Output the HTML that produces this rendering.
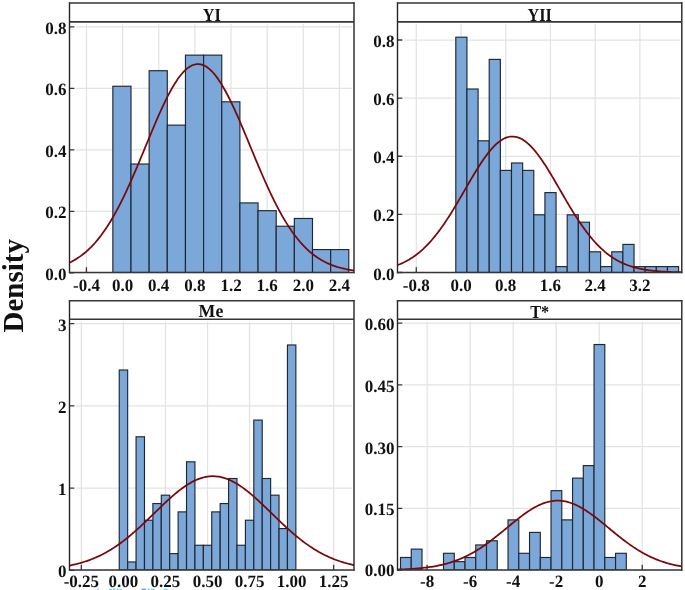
<!DOCTYPE html>
<html><head><meta charset="utf-8"><title>Density histograms</title>
<style>html,body{margin:0;padding:0;background:#fff;}body{width:685px;height:590px;overflow:hidden;font-family:"Liberation Serif",serif;}</style>
</head><body>
<svg width="685" height="590" viewBox="0 0 685 590" style="display:block;will-change:transform">
<rect width="685" height="590" fill="#fff"/>
<clipPath id="c0"><rect x="69.5" y="21.85" width="284.5" height="250.65"/></clipPath>
<path d="M86.46 24.25V272.5M122.60 24.25V272.5M158.74 24.25V272.5M194.88 24.25V272.5M231.02 24.25V272.5M267.16 24.25V272.5M303.30 24.25V272.5M339.44 24.25V272.5M76.0 272.90H352.0M76.0 211.40H352.0M76.0 149.90H352.0M76.0 88.40H352.0M76.0 26.90H352.0" stroke="#e3e3e3" stroke-width="1.25" fill="none"/>
<path d="M86.46 272.5v-5.3M122.60 272.5v-5.3M158.74 272.5v-5.3M194.88 272.5v-5.3M231.02 272.5v-5.3M267.16 272.5v-5.3M303.30 272.5v-5.3M339.44 272.5v-5.3M69.5 272.90h4.9M69.5 211.40h4.9M69.5 149.90h4.9M69.5 88.40h4.9M69.5 26.90h4.9" stroke="#363636" stroke-width="1.3" fill="none"/>
<g clip-path="url(#c0)" fill="#7ba7d9" stroke="#1f2733" stroke-width="1.15"><rect x="112.85" y="86.25" width="18.15" height="186.25"/><rect x="131.00" y="164.02" width="18.15" height="108.48"/><rect x="149.15" y="70.70" width="18.15" height="201.80"/><rect x="167.30" y="125.14" width="18.15" height="147.36"/><rect x="185.45" y="55.14" width="18.15" height="217.36"/><rect x="203.60" y="55.14" width="18.15" height="217.36"/><rect x="221.75" y="101.81" width="18.15" height="170.69"/><rect x="239.90" y="202.91" width="18.15" height="69.59"/><rect x="258.05" y="210.68" width="18.15" height="61.82"/><rect x="276.20" y="226.24" width="18.15" height="46.26"/><rect x="294.35" y="218.46" width="18.15" height="54.04"/><rect x="312.50" y="249.57" width="18.15" height="22.93"/><rect x="330.65" y="249.57" width="18.15" height="22.93"/></g>
<polyline clip-path="url(#c0)" points="69.50,262.68 70.92,261.98 72.34,261.24 73.77,260.46 75.19,259.63 76.61,258.76 78.03,257.85 79.46,256.88 80.88,255.87 82.30,254.81 83.72,253.69 85.15,252.53 86.57,251.30 87.99,250.02 89.41,248.68 90.84,247.29 92.26,245.83 93.68,244.31 95.11,242.73 96.53,241.08 97.95,239.37 99.37,237.59 100.80,235.75 102.22,233.83 103.64,231.85 105.06,229.81 106.48,227.69 107.91,225.50 109.33,223.25 110.75,220.92 112.17,218.53 113.60,216.07 115.02,213.54 116.44,210.95 117.87,208.29 119.29,205.57 120.71,202.78 122.13,199.93 123.56,197.02 124.98,194.06 126.40,191.04 127.82,187.96 129.25,184.84 130.67,181.67 132.09,178.45 133.51,175.19 134.94,171.90 136.36,168.57 137.78,165.22 139.20,161.83 140.62,158.43 142.05,155.01 143.47,151.57 144.89,148.13 146.31,144.68 147.74,141.24 149.16,137.81 150.58,134.38 152.00,130.98 153.43,127.60 154.85,124.25 156.27,120.93 157.69,117.66 159.12,114.43 160.54,111.26 161.96,108.14 163.38,105.09 164.81,102.11 166.23,99.20 167.65,96.38 169.07,93.64 170.50,90.99 171.92,88.44 173.34,86.00 174.76,83.66 176.19,81.43 177.61,79.32 179.03,77.34 180.45,75.48 181.88,73.74 183.30,72.15 184.72,70.68 186.14,69.36 187.57,68.18 188.99,67.15 190.41,66.27 191.83,65.53 193.26,64.95 194.68,64.52 196.10,64.24 197.53,64.11 198.95,64.15 200.37,64.33 201.79,64.67 203.22,65.16 204.64,65.81 206.06,66.60 207.48,67.55 208.91,68.64 210.33,69.87 211.75,71.25 213.17,72.77 214.59,74.42 216.02,76.20 217.44,78.12 218.86,80.15 220.28,82.31 221.71,84.58 223.13,86.96 224.55,89.45 225.97,92.04 227.40,94.72 228.82,97.50 230.24,100.36 231.66,103.29 233.09,106.30 234.51,109.38 235.93,112.52 237.35,115.72 238.78,118.96 240.20,122.26 241.62,125.59 243.04,128.95 244.47,132.34 245.89,135.75 247.31,139.18 248.74,142.62 250.16,146.06 251.58,149.51 253.00,152.94 254.43,156.38 255.85,159.79 257.27,163.19 258.69,166.56 260.12,169.91 261.54,173.22 262.96,176.50 264.38,179.74 265.81,182.94 267.23,186.09 268.65,189.20 270.07,192.25 271.50,195.25 272.92,198.19 274.34,201.08 275.76,203.90 277.19,206.66 278.61,209.36 280.03,211.99 281.45,214.56 282.88,217.06 284.30,219.50 285.72,221.86 287.14,224.16 288.56,226.38 289.99,228.54 291.41,230.63 292.83,232.65 294.25,234.61 295.68,236.49 297.10,238.31 298.52,240.06 299.94,241.75 301.37,243.37 302.79,244.92 304.21,246.42 305.63,247.85 307.06,249.23 308.48,250.54 309.90,251.80 311.32,253.00 312.75,254.15 314.17,255.24 315.59,256.28 317.01,257.28 318.44,258.22 319.86,259.12 321.28,259.97 322.71,260.78 324.13,261.54 325.55,262.27 326.97,262.95 328.39,263.60 329.82,264.22 331.24,264.80 332.66,265.34 334.08,265.86 335.51,266.34 336.93,266.80 338.35,267.22 339.77,267.63 341.20,268.00 342.62,268.36 344.04,268.69 345.46,269.00 346.89,269.29 348.31,269.56 349.73,269.81 351.15,270.05 352.58,270.26 354.00,270.47" fill="none" stroke="#7a0709" stroke-width="1.75" stroke-linejoin="round"/>
<path d="M69.5 2.3V273.25M354.0 2.3V273.25" stroke="#242424" stroke-width="1.4" fill="none"/>
<path d="M68.9 3.05H354.6M69.5 21.85H354.0M68.9 272.5H354.6" stroke="#363636" stroke-width="1.55" fill="none"/>
<g font-family="Liberation Serif, serif" font-weight="bold" font-size="17.0" fill="#111" text-rendering="geometricPrecision" style="filter:grayscale(1)">
<text transform="translate(211.75,20.95) scale(1,1.13)" text-anchor="middle" font-size="16.3">YI</text>
<text transform="translate(86.46,291.40) scale(1,1.02)" text-anchor="middle">-0.4</text>
<text transform="translate(122.60,291.40) scale(1,1.02)" text-anchor="middle">0.0</text>
<text transform="translate(158.74,291.40) scale(1,1.02)" text-anchor="middle">0.4</text>
<text transform="translate(194.88,291.40) scale(1,1.02)" text-anchor="middle">0.8</text>
<text transform="translate(231.02,291.40) scale(1,1.02)" text-anchor="middle">1.2</text>
<text transform="translate(267.16,291.40) scale(1,1.02)" text-anchor="middle">1.6</text>
<text transform="translate(303.30,291.40) scale(1,1.02)" text-anchor="middle">2.0</text>
<text transform="translate(339.44,291.40) scale(1,1.02)" text-anchor="middle">2.4</text>
<text transform="translate(66.50,279.90) scale(1,1.02)" text-anchor="end">0.0</text>
<text transform="translate(66.50,218.40) scale(1,1.02)" text-anchor="end">0.2</text>
<text transform="translate(66.50,156.90) scale(1,1.02)" text-anchor="end">0.4</text>
<text transform="translate(66.50,95.40) scale(1,1.02)" text-anchor="end">0.6</text>
<text transform="translate(66.50,33.90) scale(1,1.02)" text-anchor="end">0.8</text>
</g>
<clipPath id="c1"><rect x="397.5" y="21.85" width="284.29999999999995" height="250.65"/></clipPath>
<path d="M416.28 24.25V272.5M461.00 24.25V272.5M505.72 24.25V272.5M550.44 24.25V272.5M595.16 24.25V272.5M639.88 24.25V272.5M404.0 272.50H679.8M404.0 214.38H679.8M404.0 156.26H679.8M404.0 98.14H679.8M404.0 40.02H679.8" stroke="#e3e3e3" stroke-width="1.25" fill="none"/>
<path d="M416.28 272.5v-5.3M461.00 272.5v-5.3M505.72 272.5v-5.3M550.44 272.5v-5.3M595.16 272.5v-5.3M639.88 272.5v-5.3M397.5 272.50h4.9M397.5 214.38h4.9M397.5 156.26h4.9M397.5 98.14h4.9M397.5 40.02h4.9" stroke="#363636" stroke-width="1.3" fill="none"/>
<g clip-path="url(#c1)" fill="#7ba7d9" stroke="#1f2733" stroke-width="1.15"><rect x="455.80" y="37.20" width="11.14" height="235.30"/><rect x="466.94" y="89.00" width="11.14" height="183.50"/><rect x="478.08" y="140.80" width="11.14" height="131.70"/><rect x="489.22" y="59.40" width="11.14" height="213.10"/><rect x="500.36" y="170.40" width="11.14" height="102.10"/><rect x="511.50" y="163.00" width="11.14" height="109.50"/><rect x="522.64" y="170.40" width="11.14" height="102.10"/><rect x="533.78" y="214.80" width="11.14" height="57.70"/><rect x="544.92" y="192.60" width="11.14" height="79.90"/><rect x="556.06" y="266.60" width="11.14" height="5.90"/><rect x="567.20" y="214.80" width="11.14" height="57.70"/><rect x="578.34" y="222.20" width="11.14" height="50.30"/><rect x="589.48" y="251.80" width="11.14" height="20.70"/><rect x="600.62" y="266.60" width="11.14" height="5.90"/><rect x="611.76" y="251.80" width="11.14" height="20.70"/><rect x="622.90" y="244.40" width="11.14" height="28.10"/><rect x="634.04" y="266.60" width="11.14" height="5.90"/><rect x="645.18" y="266.60" width="11.14" height="5.90"/><rect x="656.32" y="266.60" width="11.14" height="5.90"/><rect x="667.46" y="266.60" width="11.14" height="5.90"/></g>
<polyline clip-path="url(#c1)" points="397.50,265.08 398.92,264.53 400.34,263.95 401.76,263.33 403.19,262.68 404.61,261.99 406.03,261.26 407.45,260.49 408.87,259.68 410.29,258.82 411.71,257.93 413.14,256.99 414.56,256.00 415.98,254.96 417.40,253.88 418.82,252.75 420.24,251.56 421.67,250.33 423.09,249.05 424.51,247.71 425.93,246.32 427.35,244.87 428.77,243.37 430.19,241.82 431.62,240.21 433.04,238.55 434.46,236.84 435.88,235.07 437.30,233.25 438.72,231.38 440.14,229.46 441.57,227.49 442.99,225.47 444.41,223.40 445.83,221.28 447.25,219.13 448.67,216.93 450.10,214.69 451.52,212.42 452.94,210.11 454.36,207.77 455.78,205.41 457.20,203.02 458.62,200.60 460.05,198.17 461.47,195.73 462.89,193.28 464.31,190.82 465.73,188.36 467.15,185.90 468.57,183.45 470.00,181.01 471.42,178.59 472.84,176.19 474.26,173.82 475.68,171.48 477.10,169.17 478.53,166.91 479.95,164.69 481.37,162.53 482.79,160.42 484.21,158.37 485.63,156.39 487.05,154.48 488.48,152.64 489.90,150.88 491.32,149.21 492.74,147.63 494.16,146.13 495.58,144.74 497.00,143.44 498.43,142.25 499.85,141.16 501.27,140.18 502.69,139.31 504.11,138.55 505.53,137.92 506.96,137.39 508.38,136.99 509.80,136.71 511.22,136.54 512.64,136.50 514.06,136.58 515.48,136.78 516.91,137.10 518.33,137.54 519.75,138.09 521.17,138.77 522.59,139.56 524.01,140.46 525.43,141.47 526.86,142.59 528.28,143.82 529.70,145.15 531.12,146.57 532.54,148.09 533.96,149.70 535.39,151.40 536.81,153.18 538.23,155.04 539.65,156.98 541.07,158.98 542.49,161.05 543.91,163.17 545.34,165.35 546.76,167.58 548.18,169.86 549.60,172.18 551.02,174.53 552.44,176.91 553.87,179.32 555.29,181.74 556.71,184.19 558.13,186.64 559.55,189.10 560.97,191.56 562.39,194.01 563.82,196.47 565.24,198.91 566.66,201.33 568.08,203.74 569.50,206.12 570.92,208.48 572.34,210.81 573.77,213.11 575.19,215.37 576.61,217.59 578.03,219.78 579.45,221.92 580.87,224.02 582.29,226.08 583.72,228.08 585.14,230.04 586.56,231.95 587.98,233.81 589.40,235.61 590.82,237.36 592.25,239.06 593.67,240.70 595.09,242.29 596.51,243.83 597.93,245.31 599.35,246.74 600.77,248.11 602.20,249.44 603.62,250.71 605.04,251.93 606.46,253.09 607.88,254.21 609.30,255.28 610.72,256.30 612.15,257.27 613.57,258.20 614.99,259.08 616.41,259.92 617.83,260.72 619.25,261.48 620.68,262.20 622.10,262.88 623.52,263.52 624.94,264.13 626.36,264.70 627.78,265.24 629.20,265.75 630.63,266.23 632.05,266.68 633.47,267.10 634.89,267.50 636.31,267.87 637.73,268.21 639.15,268.54 640.58,268.84 642.00,269.13 643.42,269.39 644.84,269.64 646.26,269.87 647.68,270.08 649.11,270.28 650.53,270.46 651.95,270.63 653.37,270.79 654.79,270.93 656.21,271.07 657.63,271.19 659.06,271.30 660.48,271.41 661.90,271.51 663.32,271.60 664.74,271.68 666.16,271.75 667.59,271.82 669.01,271.88 670.43,271.94 671.85,272.00 673.27,272.04 674.69,272.09 676.11,272.13 677.54,272.16 678.96,272.20 680.38,272.23 681.80,272.25" fill="none" stroke="#7a0709" stroke-width="1.75" stroke-linejoin="round"/>
<path d="M397.5 2.3V273.25M681.8 2.3V273.25" stroke="#242424" stroke-width="1.4" fill="none"/>
<path d="M396.9 3.05H682.4M397.5 21.85H681.8M396.9 272.5H682.4" stroke="#363636" stroke-width="1.55" fill="none"/>
<g font-family="Liberation Serif, serif" font-weight="bold" font-size="17.0" fill="#111" text-rendering="geometricPrecision" style="filter:grayscale(1)">
<text transform="translate(539.65,20.95) scale(1,1.13)" text-anchor="middle" font-size="16.3">YII</text>
<text transform="translate(416.28,291.40) scale(1,1.02)" text-anchor="middle">-0.8</text>
<text transform="translate(461.00,291.40) scale(1,1.02)" text-anchor="middle">0.0</text>
<text transform="translate(505.72,291.40) scale(1,1.02)" text-anchor="middle">0.8</text>
<text transform="translate(550.44,291.40) scale(1,1.02)" text-anchor="middle">1.6</text>
<text transform="translate(595.16,291.40) scale(1,1.02)" text-anchor="middle">2.4</text>
<text transform="translate(639.88,291.40) scale(1,1.02)" text-anchor="middle">3.2</text>
<text transform="translate(394.50,279.50) scale(1,1.02)" text-anchor="end">0.0</text>
<text transform="translate(394.50,221.38) scale(1,1.02)" text-anchor="end">0.2</text>
<text transform="translate(394.50,163.26) scale(1,1.02)" text-anchor="end">0.4</text>
<text transform="translate(394.50,105.14) scale(1,1.02)" text-anchor="end">0.6</text>
<text transform="translate(394.50,47.02) scale(1,1.02)" text-anchor="end">0.8</text>
</g>
<clipPath id="c2"><rect x="69.5" y="319.3" width="284.5" height="250.7"/></clipPath>
<path d="M81.35 321.7V570M123.40 321.7V570M165.45 321.7V570M207.50 321.7V570M249.55 321.7V570M291.60 321.7V570M333.65 321.7V570M76.0 570.30H352.0M76.0 488.10H352.0M76.0 405.90H352.0M76.0 323.70H352.0" stroke="#e3e3e3" stroke-width="1.25" fill="none"/>
<path d="M81.35 570v-5.3M123.40 570v-5.3M165.45 570v-5.3M207.50 570v-5.3M249.55 570v-5.3M291.60 570v-5.3M333.65 570v-5.3M69.5 570.30h4.9M69.5 488.10h4.9M69.5 405.90h4.9M69.5 323.70h4.9" stroke="#363636" stroke-width="1.3" fill="none"/>
<g clip-path="url(#c2)" fill="#7ba7d9" stroke="#1f2733" stroke-width="1.15"><rect x="119.25" y="370.02" width="8.41" height="199.98"/><rect x="127.66" y="561.95" width="8.41" height="8.05"/><rect x="136.07" y="436.78" width="8.41" height="133.22"/><rect x="144.48" y="520.23" width="8.41" height="49.77"/><rect x="152.89" y="503.54" width="8.41" height="66.46"/><rect x="161.30" y="495.19" width="8.41" height="74.81"/><rect x="169.71" y="553.61" width="8.41" height="16.39"/><rect x="178.12" y="511.88" width="8.41" height="58.12"/><rect x="186.53" y="461.81" width="8.41" height="108.19"/><rect x="194.94" y="545.26" width="8.41" height="24.74"/><rect x="203.35" y="545.26" width="8.41" height="24.74"/><rect x="211.76" y="511.88" width="8.41" height="58.12"/><rect x="220.17" y="503.54" width="8.41" height="66.46"/><rect x="228.58" y="478.50" width="8.41" height="91.50"/><rect x="236.99" y="545.26" width="8.41" height="24.74"/><rect x="245.40" y="520.23" width="8.41" height="49.77"/><rect x="253.81" y="420.09" width="8.41" height="149.91"/><rect x="262.22" y="478.50" width="8.41" height="91.50"/><rect x="270.63" y="495.19" width="8.41" height="74.81"/><rect x="279.04" y="528.57" width="8.41" height="41.43"/><rect x="287.45" y="344.98" width="8.41" height="225.02"/></g>
<polyline clip-path="url(#c2)" points="69.50,565.57 70.92,565.28 72.34,564.98 73.77,564.66 75.19,564.33 76.61,563.98 78.03,563.62 79.46,563.24 80.88,562.84 82.30,562.42 83.72,561.99 85.15,561.53 86.57,561.06 87.99,560.57 89.41,560.06 90.84,559.52 92.26,558.97 93.68,558.39 95.11,557.79 96.53,557.17 97.95,556.53 99.37,555.86 100.80,555.17 102.22,554.46 103.64,553.72 105.06,552.96 106.48,552.17 107.91,551.36 109.33,550.53 110.75,549.67 112.17,548.78 113.60,547.87 115.02,546.94 116.44,545.98 117.87,545.00 119.29,543.99 120.71,542.96 122.13,541.90 123.56,540.83 124.98,539.73 126.40,538.60 127.82,537.46 129.25,536.29 130.67,535.10 132.09,533.90 133.51,532.67 134.94,531.42 136.36,530.16 137.78,528.88 139.20,527.59 140.62,526.28 142.05,524.96 143.47,523.62 144.89,522.27 146.31,520.92 147.74,519.55 149.16,518.18 150.58,516.81 152.00,515.43 153.43,514.04 154.85,512.66 156.27,511.27 157.69,509.89 159.12,508.51 160.54,507.14 161.96,505.78 163.38,504.43 164.81,503.08 166.23,501.75 167.65,500.44 169.07,499.14 170.50,497.86 171.92,496.60 173.34,495.36 174.76,494.14 176.19,492.96 177.61,491.80 179.03,490.66 180.45,489.57 181.88,488.50 183.30,487.47 184.72,486.47 186.14,485.51 187.57,484.60 188.99,483.72 190.41,482.88 191.83,482.09 193.26,481.35 194.68,480.65 196.10,480.00 197.53,479.39 198.95,478.84 200.37,478.34 201.79,477.89 203.22,477.49 204.64,477.15 206.06,476.86 207.48,476.62 208.91,476.44 210.33,476.31 211.75,476.24 213.17,476.22 214.59,476.26 216.02,476.36 217.44,476.51 218.86,476.71 220.28,476.97 221.71,477.28 223.13,477.65 224.55,478.07 225.97,478.54 227.40,479.06 228.82,479.63 230.24,480.26 231.66,480.93 233.09,481.65 234.51,482.41 235.93,483.22 237.35,484.07 238.78,484.96 240.20,485.90 241.62,486.87 243.04,487.88 244.47,488.93 245.89,490.01 247.31,491.12 248.74,492.27 250.16,493.44 251.58,494.64 253.00,495.86 254.43,497.11 255.85,498.38 257.27,499.66 258.69,500.97 260.12,502.29 261.54,503.63 262.96,504.98 264.38,506.33 265.81,507.70 267.23,509.08 268.65,510.46 270.07,511.84 271.50,513.22 272.92,514.61 274.34,515.99 275.76,517.37 277.19,518.74 278.61,520.11 280.03,521.47 281.45,522.82 282.88,524.17 284.30,525.50 285.72,526.81 287.14,528.12 288.56,529.41 289.99,530.68 291.41,531.93 292.83,533.17 294.25,534.39 295.68,535.59 297.10,536.77 298.52,537.93 299.94,539.06 301.37,540.18 302.79,541.27 304.21,542.34 305.63,543.38 307.06,544.40 308.48,545.40 309.90,546.37 311.32,547.32 312.75,548.25 314.17,549.15 315.59,550.02 317.01,550.87 318.44,551.69 319.86,552.49 321.28,553.27 322.71,554.02 324.13,554.75 325.55,555.45 326.97,556.13 328.39,556.79 329.82,557.43 331.24,558.04 332.66,558.63 334.08,559.20 335.51,559.74 336.93,560.27 338.35,560.77 339.77,561.26 341.20,561.72 342.62,562.17 344.04,562.60 345.46,563.00 346.89,563.40 348.31,563.77 349.73,564.13 351.15,564.47 352.58,564.80 354.00,565.11" fill="none" stroke="#7a0709" stroke-width="1.75" stroke-linejoin="round"/>
<path d="M69.5 300.05V570.75M354.0 300.05V570.75" stroke="#242424" stroke-width="1.4" fill="none"/>
<path d="M68.9 300.8H354.6M69.5 319.3H354.0M68.9 570H354.6" stroke="#363636" stroke-width="1.55" fill="none"/>
<g font-family="Liberation Serif, serif" font-weight="bold" font-size="17.0" fill="#111" text-rendering="geometricPrecision" style="filter:grayscale(1)">
<text transform="translate(210.95,317.20) scale(1,1.04)" text-anchor="middle" font-size="17.8">Me</text>
<text transform="translate(81.35,587.20) scale(1,1.02)" text-anchor="middle">-0.25</text>
<text transform="translate(123.40,587.20) scale(1,1.02)" text-anchor="middle">0.00</text>
<text transform="translate(165.45,587.20) scale(1,1.02)" text-anchor="middle">0.25</text>
<text transform="translate(207.50,587.20) scale(1,1.02)" text-anchor="middle">0.50</text>
<text transform="translate(249.55,587.20) scale(1,1.02)" text-anchor="middle">0.75</text>
<text transform="translate(291.60,587.20) scale(1,1.02)" text-anchor="middle">1.00</text>
<text transform="translate(333.65,587.20) scale(1,1.02)" text-anchor="middle">1.25</text>
<text transform="translate(66.50,576.60) scale(1,1.02)" text-anchor="end">0</text>
<text transform="translate(66.50,495.10) scale(1,1.02)" text-anchor="end">1</text>
<text transform="translate(66.50,412.90) scale(1,1.02)" text-anchor="end">2</text>
<text transform="translate(66.50,330.70) scale(1,1.02)" text-anchor="end">3</text>
</g>
<clipPath id="c3"><rect x="397.5" y="319.3" width="284.29999999999995" height="250.7"/></clipPath>
<path d="M427.12 321.7V570M470.14 321.7V570M513.16 321.7V570M556.18 321.7V570M599.20 321.7V570M642.22 321.7V570M404.0 570.00H679.8M404.0 508.31H679.8M404.0 446.61H679.8M404.0 384.91H679.8M404.0 323.22H679.8" stroke="#e3e3e3" stroke-width="1.25" fill="none"/>
<path d="M427.12 570v-5.3M470.14 570v-5.3M513.16 570v-5.3M556.18 570v-5.3M599.20 570v-5.3M642.22 570v-5.3M397.5 570.00h4.9M397.5 508.31h4.9M397.5 446.61h4.9M397.5 384.91h4.9M397.5 323.22h4.9" stroke="#363636" stroke-width="1.3" fill="none"/>
<g clip-path="url(#c3)" fill="#7ba7d9" stroke="#1f2733" stroke-width="1.15"><rect x="400.50" y="557.47" width="10.75" height="12.53"/><rect x="411.25" y="549.12" width="10.75" height="20.88"/><rect x="443.51" y="553.30" width="10.75" height="16.70"/><rect x="454.26" y="561.65" width="10.75" height="8.35"/><rect x="465.02" y="557.47" width="10.75" height="12.53"/><rect x="475.77" y="544.95" width="10.75" height="25.05"/><rect x="486.52" y="540.77" width="10.75" height="29.23"/><rect x="508.03" y="519.89" width="10.75" height="50.11"/><rect x="518.78" y="553.30" width="10.75" height="16.70"/><rect x="529.54" y="532.42" width="10.75" height="37.58"/><rect x="540.29" y="557.47" width="10.75" height="12.53"/><rect x="551.04" y="490.66" width="10.75" height="79.34"/><rect x="561.80" y="519.89" width="10.75" height="50.11"/><rect x="572.55" y="478.14" width="10.75" height="91.86"/><rect x="583.30" y="465.61" width="10.75" height="104.39"/><rect x="594.05" y="344.52" width="10.75" height="225.48"/><rect x="604.81" y="557.47" width="10.75" height="12.53"/><rect x="615.56" y="553.30" width="10.75" height="16.70"/></g>
<polyline clip-path="url(#c3)" points="397.50,569.51 398.92,569.47 400.34,569.42 401.76,569.36 403.19,569.31 404.61,569.25 406.03,569.18 407.45,569.11 408.87,569.03 410.29,568.95 411.71,568.87 413.14,568.77 414.56,568.67 415.98,568.56 417.40,568.45 418.82,568.32 420.24,568.19 421.67,568.05 423.09,567.90 424.51,567.74 425.93,567.57 427.35,567.39 428.77,567.19 430.19,566.99 431.62,566.77 433.04,566.54 434.46,566.30 435.88,566.04 437.30,565.77 438.72,565.48 440.14,565.18 441.57,564.86 442.99,564.53 444.41,564.17 445.83,563.80 447.25,563.41 448.67,563.00 450.10,562.57 451.52,562.13 452.94,561.66 454.36,561.17 455.78,560.66 457.20,560.12 458.62,559.57 460.05,558.99 461.47,558.39 462.89,557.76 464.31,557.11 465.73,556.44 467.15,555.74 468.57,555.02 470.00,554.28 471.42,553.51 472.84,552.72 474.26,551.90 475.68,551.06 477.10,550.20 478.53,549.31 479.95,548.40 481.37,547.47 482.79,546.51 484.21,545.54 485.63,544.54 487.05,543.52 488.48,542.49 489.90,541.44 491.32,540.36 492.74,539.28 494.16,538.18 495.58,537.06 497.00,535.93 498.43,534.79 499.85,533.64 501.27,532.48 502.69,531.32 504.11,530.15 505.53,528.98 506.96,527.80 508.38,526.63 509.80,525.46 511.22,524.29 512.64,523.13 514.06,521.97 515.48,520.83 516.91,519.69 518.33,518.58 519.75,517.47 521.17,516.39 522.59,515.33 524.01,514.28 525.43,513.27 526.86,512.28 528.28,511.32 529.70,510.38 531.12,509.48 532.54,508.62 533.96,507.79 535.39,507.00 536.81,506.25 538.23,505.54 539.65,504.87 541.07,504.25 542.49,503.68 543.91,503.15 545.34,502.67 546.76,502.23 548.18,501.85 549.60,501.52 551.02,501.25 552.44,501.02 553.87,500.85 555.29,500.73 556.71,500.67 558.13,500.66 559.55,500.70 560.97,500.80 562.39,500.95 563.82,501.16 565.24,501.41 566.66,501.72 568.08,502.09 569.50,502.50 570.92,502.96 572.34,503.47 573.77,504.03 575.19,504.64 576.61,505.29 578.03,505.98 579.45,506.71 580.87,507.49 582.29,508.30 583.72,509.16 585.14,510.04 586.56,510.96 587.98,511.91 589.40,512.89 590.82,513.90 592.25,514.93 593.67,515.99 595.09,517.06 596.51,518.16 597.93,519.27 599.35,520.40 600.77,521.54 602.20,522.69 603.62,523.85 605.04,525.02 606.46,526.19 607.88,527.36 609.30,528.54 610.72,529.71 612.15,530.88 613.57,532.05 614.99,533.21 616.41,534.36 617.83,535.50 619.25,536.64 620.68,537.76 622.10,538.87 623.52,539.96 624.94,541.04 626.36,542.10 627.78,543.14 629.20,544.16 630.63,545.17 632.05,546.15 633.47,547.11 634.89,548.05 636.31,548.97 637.73,549.87 639.15,550.74 640.58,551.59 642.00,552.41 643.42,553.22 644.84,553.99 646.26,554.75 647.68,555.48 649.11,556.18 650.53,556.86 651.95,557.52 653.37,558.15 654.79,558.76 656.21,559.35 657.63,559.92 659.06,560.46 660.48,560.98 661.90,561.48 663.32,561.95 664.74,562.41 666.16,562.84 667.59,563.26 669.01,563.66 670.43,564.04 671.85,564.40 673.27,564.74 674.69,565.06 676.11,565.37 677.54,565.67 678.96,565.94 680.38,566.21 681.80,566.45" fill="none" stroke="#7a0709" stroke-width="1.75" stroke-linejoin="round"/>
<path d="M397.5 300.05V570.75M681.8 300.05V570.75" stroke="#242424" stroke-width="1.4" fill="none"/>
<path d="M396.9 300.8H682.4M397.5 319.3H681.8M396.9 570H682.4" stroke="#363636" stroke-width="1.55" fill="none"/>
<g font-family="Liberation Serif, serif" font-weight="bold" font-size="17.0" fill="#111" text-rendering="geometricPrecision" style="filter:grayscale(1)">
<text transform="translate(539.65,317.60) scale(1,1.13)" text-anchor="middle" font-size="16.3">T*</text>
<text transform="translate(427.12,587.20) scale(1,1.02)" text-anchor="middle">-8</text>
<text transform="translate(470.14,587.20) scale(1,1.02)" text-anchor="middle">-6</text>
<text transform="translate(513.16,587.20) scale(1,1.02)" text-anchor="middle">-4</text>
<text transform="translate(556.18,587.20) scale(1,1.02)" text-anchor="middle">-2</text>
<text transform="translate(599.20,587.20) scale(1,1.02)" text-anchor="middle">0</text>
<text transform="translate(642.22,587.20) scale(1,1.02)" text-anchor="middle">2</text>
<text transform="translate(394.50,576.30) scale(1,1.02)" text-anchor="end">0.00</text>
<text transform="translate(394.50,515.31) scale(1,1.02)" text-anchor="end">0.15</text>
<text transform="translate(394.50,453.61) scale(1,1.02)" text-anchor="end">0.30</text>
<text transform="translate(394.50,391.91) scale(1,1.02)" text-anchor="end">0.45</text>
<text transform="translate(394.50,330.22) scale(1,1.02)" text-anchor="end">0.60</text>
</g>
<text transform="translate(22.7,332.5) rotate(-90)" font-family="Liberation Serif, serif" font-weight="bold" font-size="29" fill="#111" style="filter:grayscale(1)">Density</text>
<g fill="#3fd3f2" opacity="0.8"><rect x="97.5" y="588.8" width="1.6" height="1.2"/><rect x="109.2" y="588.6" width="2.6" height="1.4"/><rect x="113" y="588.6" width="2.4" height="1.4"/><rect x="116.4" y="588.6" width="1.8" height="1.4"/><rect x="119.4" y="588.8" width="2.4" height="1.2"/><rect x="147.5" y="588.6" width="2.2" height="1.4"/><rect x="151" y="588.8" width="3.6" height="1.2"/><rect x="163.5" y="588.8" width="4.2" height="1.2"/><rect x="141.5" y="588.6" width="4.5" height="1.4" fill="#4a86e8"/></g>
</svg>
</body></html>
